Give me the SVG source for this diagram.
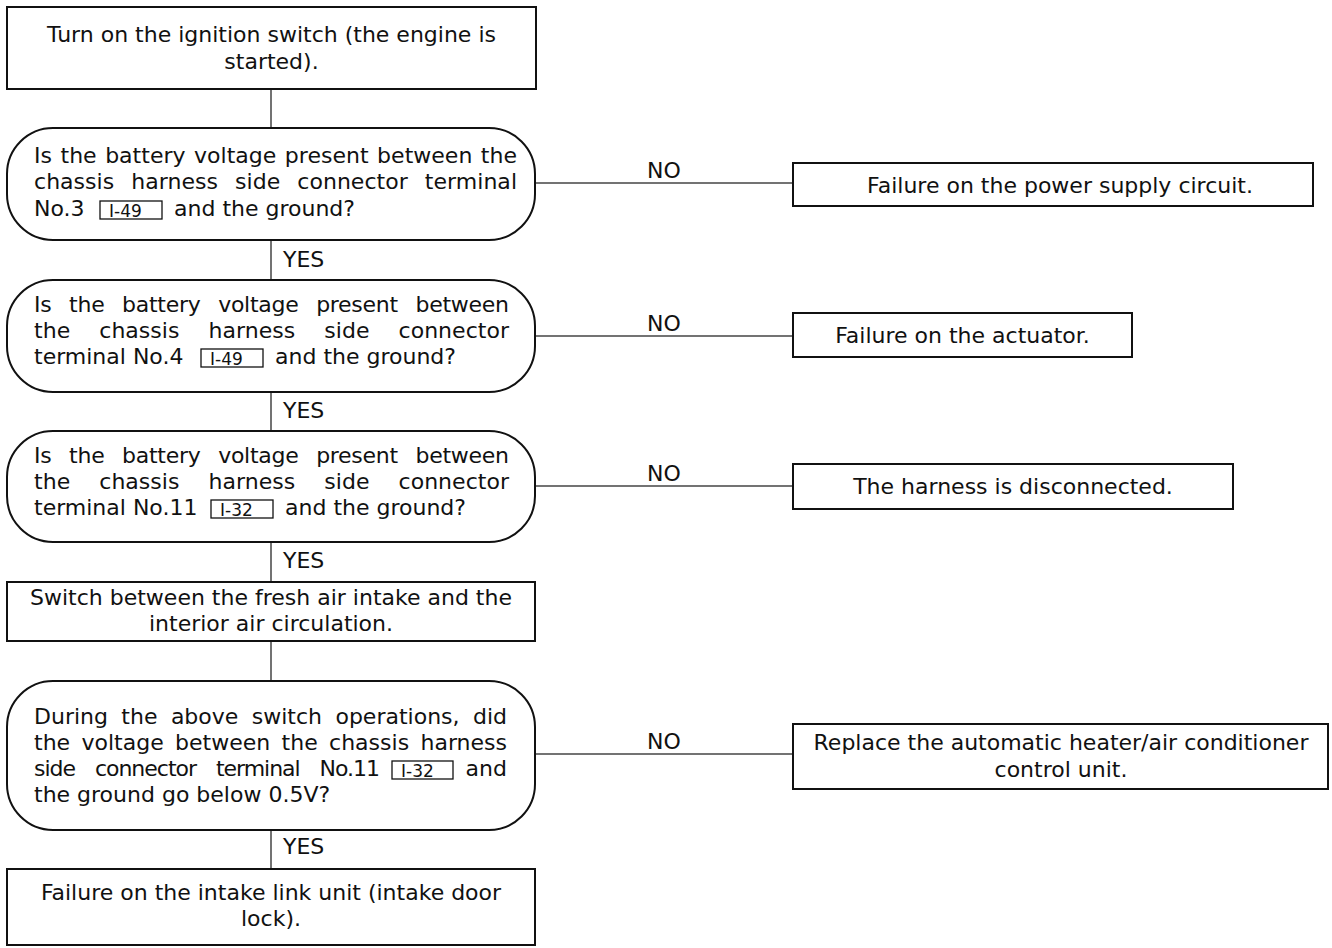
<svg xmlns="http://www.w3.org/2000/svg" width="1332" height="948" viewBox="0 0 1332 948">
  <style>
    text { font-family: "DejaVu Sans", "Liberation Sans", sans-serif; font-size: 22px; fill: #111; }
    .c { text-anchor: middle; }
    .e { text-anchor: end; }
    .box { fill: #fff; stroke: #111; stroke-width: 2; }
    .dec { fill: #fff; stroke: #111; stroke-width: 2; }
    .tag { fill: none; stroke: #111; stroke-width: 1.3; }
    .tagt { font-size: 17px; }
    .link { stroke: #444; stroke-width: 1.5; fill: none; }
  </style>
  <rect width="1332" height="948" fill="#fff"/>

  <!-- connectors -->
  <g id="connectors">
    <line class="link" x1="271" y1="89" x2="271" y2="128"/>
    <line class="link" x1="271" y1="240" x2="271" y2="280"/>
    <line class="link" x1="271" y1="392" x2="271" y2="431"/>
    <line class="link" x1="271" y1="542" x2="271" y2="582"/>
    <line class="link" x1="271" y1="641" x2="271" y2="681"/>
    <line class="link" x1="271" y1="830" x2="271" y2="869"/>
    <line class="link" x1="535" y1="183" x2="793" y2="183"/>
    <line class="link" x1="535" y1="336" x2="793" y2="336"/>
    <line class="link" x1="535" y1="486" x2="793" y2="486"/>
    <line class="link" x1="535" y1="754" x2="793" y2="754"/>
    <text x="283" y="267">YES</text>
    <text x="283" y="418">YES</text>
    <text x="283" y="568">YES</text>
    <text x="283" y="854">YES</text>
    <text class="c" x="664" y="178">NO</text>
    <text class="c" x="664" y="331">NO</text>
    <text class="c" x="664" y="481">NO</text>
    <text class="c" x="664" y="749">NO</text>
  </g>

  <!-- start: ignition on -->
  <g id="start">
    <rect class="box" x="7" y="7" width="529" height="82"/>
    <text class="c" x="271.5" y="42">Turn on the ignition switch (the engine is</text>
    <text class="c" x="271.5" y="69">started).</text>
  </g>

  <!-- check terminal No.3 -->
  <g id="check-no3">
    <rect class="dec" x="7" y="128" width="528" height="112" rx="46" ry="46"/>
    <text x="34" y="163" word-spacing="1.5" textLength="483" lengthAdjust="spacing">Is the battery voltage present between the</text>
    <text x="34" y="189" word-spacing="10" textLength="483" lengthAdjust="spacing">chassis harness side connector terminal</text>
    <text x="34" y="216">No.3</text>
    <rect class="tag" x="100" y="201" width="62" height="18"/>
    <text class="tagt" x="109" y="217">I-49</text>
    <text x="174" y="216">and the ground?</text>
  </g>

  <!-- check terminal No.4 -->
  <g id="check-no4">
    <rect class="dec" x="7" y="280" width="528" height="112" rx="46" ry="46"/>
    <text x="34" y="312" word-spacing="11" textLength="475" lengthAdjust="spacing">Is the battery voltage present between</text>
    <text x="34" y="338" word-spacing="22" textLength="475" lengthAdjust="spacing">the chassis harness side connector</text>
    <text x="34" y="364">terminal No.4</text>
    <rect class="tag" x="201" y="349" width="62" height="18"/>
    <text class="tagt" x="210" y="365">I-49</text>
    <text x="275" y="364">and the ground?</text>
  </g>

  <!-- check terminal No.11 -->
  <g id="check-no11">
    <rect class="dec" x="7" y="431" width="528" height="111" rx="46" ry="46"/>
    <text x="34" y="463" word-spacing="11" textLength="475" lengthAdjust="spacing">Is the battery voltage present between</text>
    <text x="34" y="489" word-spacing="22" textLength="475" lengthAdjust="spacing">the chassis harness side connector</text>
    <text x="34" y="515">terminal No.11</text>
    <rect class="tag" x="211" y="500" width="62" height="18"/>
    <text class="tagt" x="220" y="516">I-32</text>
    <text x="285" y="515">and the ground?</text>
  </g>

  <!-- operate intake switch -->
  <g id="switch-intake">
    <rect class="box" x="7" y="582" width="528" height="59"/>
    <text class="c" x="271" y="605">Switch between the fresh air intake and the</text>
    <text class="c" x="271" y="631">interior air circulation.</text>
  </g>

  <!-- voltage drop check -->
  <g id="check-drop">
    <rect class="dec" x="7" y="681" width="528" height="149" rx="46" ry="46"/>
    <text x="34" y="724" word-spacing="6.4" textLength="473" lengthAdjust="spacing">During the above switch operations, did</text>
    <text x="34" y="750" word-spacing="4.3" textLength="473" lengthAdjust="spacing">the voltage between the chassis harness</text>
    <text x="34" y="776" word-spacing="14" textLength="346" lengthAdjust="spacing">side connector terminal No.11</text>
    <rect class="tag" x="392" y="761" width="61" height="18"/>
    <text class="tagt" x="401" y="777">I-32</text>
    <text class="e" x="507" y="776">and</text>
    <text x="34" y="802">the ground go below 0.5V?</text>
  </g>

  <!-- final: intake link unit -->
  <g id="intake-link">
    <rect class="box" x="7" y="869" width="528" height="76"/>
    <text class="c" x="271" y="900">Failure on the intake link unit (intake door</text>
    <text class="c" x="271" y="926">lock).</text>
  </g>

  <!-- NO outcomes -->
  <g id="power-supply">
    <rect class="box" x="793" y="163" width="520" height="43"/>
    <text class="c" x="1060" y="193">Failure on the power supply circuit.</text>
  </g>
  <g id="actuator">
    <rect class="box" x="793" y="313" width="339" height="44"/>
    <text class="c" x="962.5" y="343">Failure on the actuator.</text>
  </g>
  <g id="harness">
    <rect class="box" x="793" y="464" width="440" height="45"/>
    <text class="c" x="1013" y="494">The harness is disconnected.</text>
  </g>
  <g id="control-unit">
    <rect class="box" x="793" y="724" width="535" height="65"/>
    <text class="c" x="1061" y="750">Replace the automatic heater/air conditioner</text>
    <text class="c" x="1061" y="777">control unit.</text>
  </g>
</svg>
